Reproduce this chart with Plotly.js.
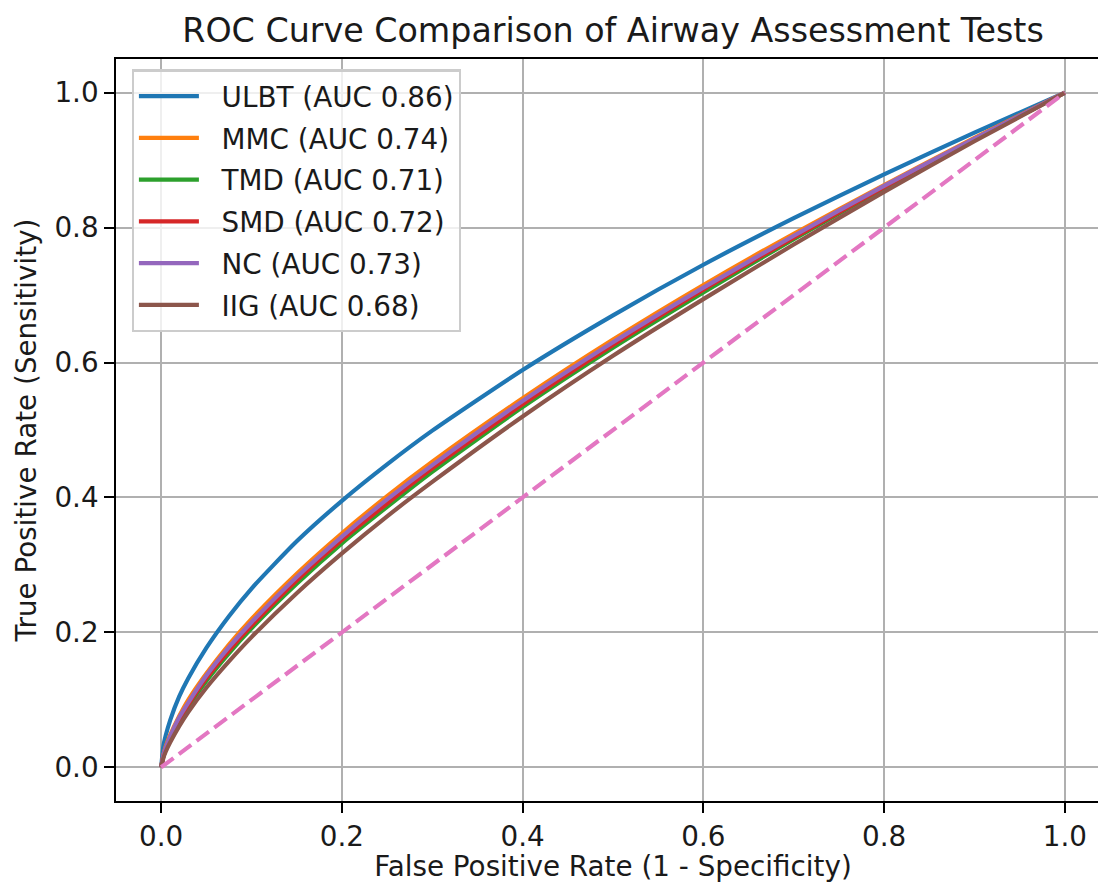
<!DOCTYPE html>
<html>
<head>
<meta charset="utf-8">
<script src="https://cdn.plot.ly/plotly-3.0.1.min.js"></script>
<style>
html, body { margin: 0; padding: 0; overflow: hidden; background: #fff; }
#chart { width: 1120px; height: 883px; }
</style>
</head>
<body>
<div id="chart"></div>
<script>
// False positive rate sample points
const fpr = [0, 0.0025, 0.005, 0.01, 0.02, 0.03, 0.05, 0.075, 0.1, 0.15, 0.2, 0.25, 0.3, 0.4, 0.5, 0.6, 0.7, 0.8, 0.9, 1.0];

// True positive rate for each test
const tprULBT = [0, 0.032, 0.047, 0.070, 0.105, 0.132, 0.177, 0.224, 0.265, 0.335, 0.395, 0.449, 0.499, 0.589, 0.670, 0.745, 0.814, 0.879, 0.941, 1.0];
const tprMMC  = [0, 0.019, 0.031, 0.048, 0.076, 0.100, 0.139, 0.182, 0.220, 0.287, 0.347, 0.402, 0.453, 0.547, 0.634, 0.715, 0.791, 0.863, 0.933, 1.0];
const tprTMD  = [0, 0.016, 0.026, 0.043, 0.068, 0.090, 0.128, 0.169, 0.206, 0.272, 0.332, 0.386, 0.438, 0.534, 0.622, 0.704, 0.783, 0.858, 0.930, 1.0];
const tprSMD  = [0, 0.017, 0.028, 0.044, 0.071, 0.093, 0.132, 0.173, 0.210, 0.277, 0.337, 0.391, 0.443, 0.538, 0.626, 0.708, 0.785, 0.860, 0.931, 1.0];
const tprNC   = [0, 0.018, 0.029, 0.046, 0.074, 0.096, 0.136, 0.178, 0.215, 0.282, 0.342, 0.397, 0.448, 0.543, 0.630, 0.711, 0.788, 0.862, 0.932, 1.0];
const tprIIG  = [0, 0.014, 0.023, 0.037, 0.061, 0.082, 0.118, 0.157, 0.193, 0.258, 0.317, 0.372, 0.423, 0.520, 0.610, 0.694, 0.775, 0.853, 0.928, 1.0];

const tests  = ["ULBT", "MMC", "TMD", "SMD", "NC", "IIG"];
const aucs   = [0.86, 0.74, 0.71, 0.72, 0.73, 0.68];
const tprs   = [tprULBT, tprMMC, tprTMD, tprSMD, tprNC, tprIIG];
const colors = ["#1f77b4", "#ff7f0e", "#2ca02c", "#d62728", "#9467bd", "#8c564b"];

// Chance diagonal
const chanceX = [0, 1];
const chanceY = [0, 1];

const tickVals = [0, 0.2, 0.4, 0.6, 0.8, 1.0];
const tickText = ["0.0", "0.2", "0.4", "0.6", "0.8", "1.0"];

const FONT = "DejaVu Sans, Liberation Sans, sans-serif";
const TXT = "#1a1a1a";
const LW = 4.17;

const traces = tests.map((t, i) => ({
  x: fpr,
  y: tprs[i],
  type: "scatter",
  mode: "lines",
  name: `\u00a0\u00a0${t} (AUC ${aucs[i].toFixed(2)})`,
  legendgroup: t,
  line: { color: colors[i], width: LW, shape: "spline", smoothing: 0.6 },
  hoverinfo: "x+y+name"
}));

traces.push({
  x: chanceX,
  y: chanceY,
  type: "scatter",
  mode: "lines",
  showlegend: false,
  legendgroup: "chance",
  line: { color: "#e377c2", width: LW, dash: "15.4px,6.7px" },
  hoverinfo: "skip"
});

const axisCommon = {
  range: [-0.05, 1.05],
  tickvals: tickVals,
  ticktext: tickText,
  ticks: "outside",
  ticklen: 9.7,
  tickwidth: 2.2,
  tickcolor: "#000",
  showline: true,
  mirror: true,
  linecolor: "#000",
  linewidth: 2.2,
  showgrid: true,
  gridcolor: "#b0b0b0",
  gridwidth: 2.2,
  zeroline: false,
  automargin: false,
  tickfont: { family: FONT, size: 27.8, color: TXT }
};

const layout = {
  width: 1120,
  height: 883,
  margin: { l: 116, r: 10, t: 59, b: 82 },
  paper_bgcolor: "#ffffff",
  plot_bgcolor: "#ffffff",
  font: { family: FONT, color: TXT },
  title: {
    text: "ROC Curve Comparison of Airway Assessment Tests",
    font: { family: FONT, size: 33.3, color: TXT },
    x: 613 / 1120,
    xanchor: "center",
    xref: "container",
    yref: "container",
    y: 1 - 30 / 883,
    yanchor: "middle"
  },
  xaxis: Object.assign({}, axisCommon, {
    title: { text: "False Positive Rate (1 - Specificity)", font: { family: FONT, size: 27.8, color: TXT }, standoff: 6 }
  }),
  yaxis: Object.assign({}, axisCommon, {
    title: { text: "True Positive Rate (Sensitivity)", font: { family: FONT, size: 27.8, color: TXT }, standoff: 10 }
  }),
  legend: {
    x: 0.0158,
    y: 0.986,
    xanchor: "left",
    yanchor: "top",
    bgcolor: "rgba(255,255,255,0.8)",
    bordercolor: "#cccccc",
    borderwidth: 2.2,
    font: { family: FONT, size: 27.8, color: TXT },
    itemwidth: 60,
    traceorder: "grouped",
    tracegroupgap: 2.6
  },
  showlegend: true
};

Plotly.newPlot("chart", traces, layout, { displayModeBar: false, staticPlot: false });
</script>
</body>
</html>
